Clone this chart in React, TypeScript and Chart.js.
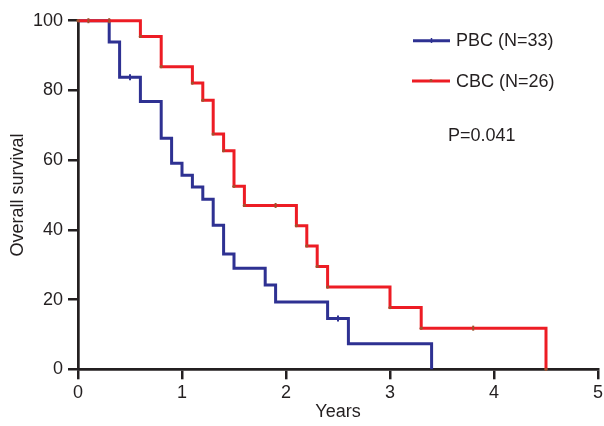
import React, { useEffect, useRef } from "react";
import { Chart, registerables } from "chart.js";

Chart.register(...registerables);

// ---- data ----
const xTicks = [0, 1, 2, 3, 4, 5];
const yTicks = [0, 20, 40, 60, 80, 100];

const pbcTimes = [0, 0.3, 0.4, 0.6, 0.8, 0.9, 1.0, 1.1, 1.2, 1.3, 1.4, 1.5, 1.8, 1.9, 2.4, 2.6, 3.4];
const pbcSurvival = [100, 93.9, 83.8, 76.8, 66.3, 59.1, 55.7, 52.3, 48.8, 41.3, 33.1, 29.0, 24.2, 19.3, 14.6, 7.3, 0];
const pbcCensorTimes = [0.5, 2.5];
const pbcCensorSurvival = [83.8, 14.6];

const cbcTimes = [0, 0.6, 0.8, 1.1, 1.2, 1.3, 1.4, 1.5, 1.6, 2.1, 2.2, 2.3, 2.4, 3.0, 3.3, 4.5];
const cbcSurvival = [100, 95.5, 86.8, 82.1, 77.2, 67.5, 62.7, 52.5, 47.0, 41.2, 35.4, 29.5, 23.6, 17.7, 11.8, 0];
const cbcCensorTimes = [0.1, 0.3, 1.9, 3.8];
const cbcCensorSurvival = [100, 100, 47.0, 11.8];

const seriesLabels = ["PBC (N=33)", "CBC (N=26)"];
const pValueText = "P=0.041";
const xTitle = "Years";
const yTitle = "Overall survival";

const BLUE = "#2e3192";
const RED = "#ed1c24";
const BROWN = "#a0522d";
const INK = "#231f20";
const FONT = "'Liberation Sans', Arial, Helvetica, sans-serif";

const pts = (xs: number[], ys: number[]) => xs.map((x, i) => ({ x, y: ys[i] }));

export default function App() {
  const ref = useRef<HTMLCanvasElement>(null);

  useEffect(() => {
    if (!ref.current) return;

    const overlay = {
      id: "overlay",
      afterDraw(chart: any) {
        const ctx = chart.ctx as CanvasRenderingContext2D;
        ctx.save();
        ctx.lineWidth = 3;
        // PBC legend
        ctx.strokeStyle = BLUE;
        ctx.beginPath();
        ctx.moveTo(413, 40.7);
        ctx.lineTo(450, 40.7);
        ctx.stroke();
        ctx.lineWidth = 1.5;
        ctx.beginPath();
        ctx.moveTo(431.5, 38);
        ctx.lineTo(431.5, 43);
        ctx.stroke();
        // CBC legend
        ctx.lineWidth = 3;
        ctx.strokeStyle = RED;
        ctx.beginPath();
        ctx.moveTo(412, 81);
        ctx.lineTo(450, 81);
        ctx.stroke();
        ctx.fillStyle = BROWN;
        ctx.beginPath();
        ctx.arc(431, 80.5, 1.6, 0, Math.PI * 2);
        ctx.fill();
        // texts
        ctx.fillStyle = INK;
        ctx.font = `18px ${FONT}`;
        ctx.textAlign = "left";
        ctx.textBaseline = "middle";
        ctx.fillText(seriesLabels[0], 456, 41.5);
        ctx.fillText(seriesLabels[1], 456, 82);
        ctx.fillText(pValueText, 448, 136);
        ctx.restore();
      },
    };

    const chart = new Chart(ref.current, {
      type: "line",
      data: {
        datasets: [
          {
            type: "scatter",
            label: "CBC censored",
            data: pts(cbcCensorTimes, cbcCensorSurvival),
            showLine: false,
            pointStyle: "line",
            rotation: 90,
            pointRadius: 2.5,
            borderWidth: 2,
            borderColor: BROWN,
            backgroundColor: BROWN,
            order: -2,
            clip: false,
          } as any,
          {
            type: "scatter",
            label: "PBC censored",
            data: pts(pbcCensorTimes, pbcCensorSurvival),
            showLine: false,
            pointStyle: "line",
            rotation: 90,
            pointRadius: 3,
            borderWidth: 2,
            borderColor: BLUE,
            backgroundColor: BLUE,
            order: -1,
            clip: false,
          } as any,
          {
            label: seriesLabels[1],
            data: pts(cbcTimes, cbcSurvival),
            stepped: "before",
            borderColor: RED,
            borderWidth: 3,
            pointRadius: 1.6,
            pointBackgroundColor: BROWN,
            pointBorderWidth: 0,
            fill: false,
            order: 0,
            clip: false,
          } as any,
          {
            label: seriesLabels[0],
            data: pts(pbcTimes, pbcSurvival),
            stepped: "before",
            borderColor: BLUE,
            borderWidth: 3,
            pointRadius: 0,
            fill: false,
            order: 1,
            clip: false,
          } as any,
        ],
      },
      options: {
        responsive: false,
        animation: false,
        layout: { padding: { left: 0, right: 5, top: 20.7, bottom: 0 } },
        plugins: {
          legend: { display: false },
          tooltip: { enabled: false },
        },
        scales: {
          x: {
            type: "linear",
            min: 0,
            max: 5,
            afterBuildTicks: (s: any) => {
              s.ticks = xTicks.map((v) => ({ value: v }));
            },
            afterFit: (s: any) => {
              s.height = 56.7;
              s.paddingLeft = 0;
              s.paddingRight = 0;
            },
            ticks: {
              color: INK,
              font: { family: FONT, size: 18 },
              padding: 3,
              maxRotation: 0,
              autoSkip: false,
            },
            grid: {
              drawOnChartArea: false,
              drawTicks: true,
              tickLength: 10,
              tickColor: INK,
              tickWidth: 2.5,
              lineWidth: 2.5,
              color: INK,
            },
            border: { display: true, color: INK, width: 2.7 },
            title: {
              display: true,
              text: xTitle,
              color: INK,
              font: { family: FONT, size: 18, lineHeight: 1.2 },
              padding: { top: 0, bottom: 3 },
            },
          },
          y: {
            type: "linear",
            min: 0,
            max: 100,
            afterBuildTicks: (s: any) => {
              s.ticks = yTicks.map((v) => ({ value: v }));
            },
            afterFit: (s: any) => {
              s.width = 78;
              s.paddingTop = 0;
              s.paddingBottom = 0;
            },
            ticks: {
              color: INK,
              font: { family: FONT, size: 18 },
              padding: 5,
              autoSkip: false,
            },
            grid: {
              drawOnChartArea: false,
              drawTicks: true,
              tickLength: 10,
              tickColor: INK,
              tickWidth: 2.5,
              lineWidth: 2.5,
              color: INK,
            },
            border: { display: true, color: INK, width: 2.7 },
            title: {
              display: true,
              text: yTitle,
              color: INK,
              font: { family: FONT, size: 18, lineHeight: 1.2 },
              padding: { top: 7, bottom: 0 },
            },
          },
        },
      },
      plugins: [overlay],
    } as any);

    return () => chart.destroy();
  }, []);

  return (
    <div style={{ position: "absolute", left: 0, top: 0, width: 604, height: 426, background: "#fff" }}>
      <canvas ref={ref} width={604} height={426} style={{ display: "block" }} />
    </div>
  );
}
